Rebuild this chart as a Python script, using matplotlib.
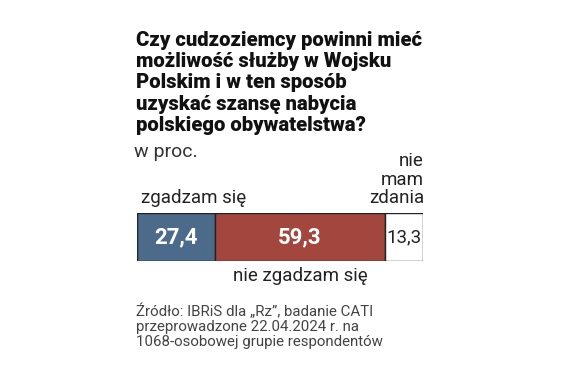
import matplotlib
matplotlib.use("Agg")
import matplotlib.pyplot as plt
import numpy as np

categories = ["zgadzam się", "nie zgadzam się", "nie\nmam\nzdania"]
values = [27.4, 59.3, 13.3]
value_labels = ["27,4", "59,3", "13,3"]
colors = ["#4c6a8a", "#a3463e", "#ffffff"]
label_colors = ["white", "white", "#222222"]

title = ("Czy cudzoziemcy powinni mieć\nmożliwość służby w Wojsku\n"
         "Polskim i w ten sposób\nuzyskać szansę nabycia\npolskiego obywatelstwa?")
subtitle = "w proc."
source = ("Źródło: IBRiS dla „Rz”, badanie CATI\nprzeprowadzone 22.04.2024 r. na\n"
          "1068-osobowej grupie respondentów")

W, H = 564, 376
fig = plt.figure(figsize=(W/100, H/100), dpi=100)
fig.patch.set_facecolor("white")

x0, x1 = 137, 423
ytop, ybot = 213, 261
ax = fig.add_axes([x0/W, 1 - ybot/H, (x1-x0)/W, (ybot-ytop)/H])
left = 0
for v, c, lab, lc in zip(values, colors, value_labels, label_colors):
    ax.barh(0, v, left=left, color=c, edgecolor="#222222", linewidth=1.0, height=1.0)
    bold = lc == "white"
    ax.text(left + v/2, 0, lab, ha="center", va="center", color=lc,
            fontsize=16 if bold else 13.5, fontweight="bold" if bold else "normal",
            family="Roboto")
    left += v
ax.set_xlim(0, 100)
ax.set_ylim(-0.5, 0.5)
ax.axis("off")

def fx(px): return px / W
def fy(py): return 1 - py / H

fig.text(fx(136), fy(31), title, ha="left", va="top", fontsize=14.6,
         fontweight="heavy", family="Roboto", color="#111111", linespacing=1.15)
fig.text(fx(134), fy(152), subtitle, ha="left", va="center", fontsize=14,
         family="Roboto", color="#333333")
fig.text(fx(141), fy(198), categories[0], ha="left", va="center", fontsize=13.5,
         family="Roboto", color="#222222")
fig.text(fx(300), fy(276), categories[1], ha="center", va="center", fontsize=13.5,
         family="Roboto", color="#222222")
fig.text(fx(424), fy(207), categories[2], ha="right", va="bottom", fontsize=13.5,
         family="Roboto", color="#222222", linespacing=1.02, multialignment="right")
fig.text(fx(136), fy(304), source, ha="left", va="top", fontsize=10.8,
         family="Roboto", color="#444444", linespacing=1.05)

fig.savefig("out.png", dpi=100, facecolor="white")
